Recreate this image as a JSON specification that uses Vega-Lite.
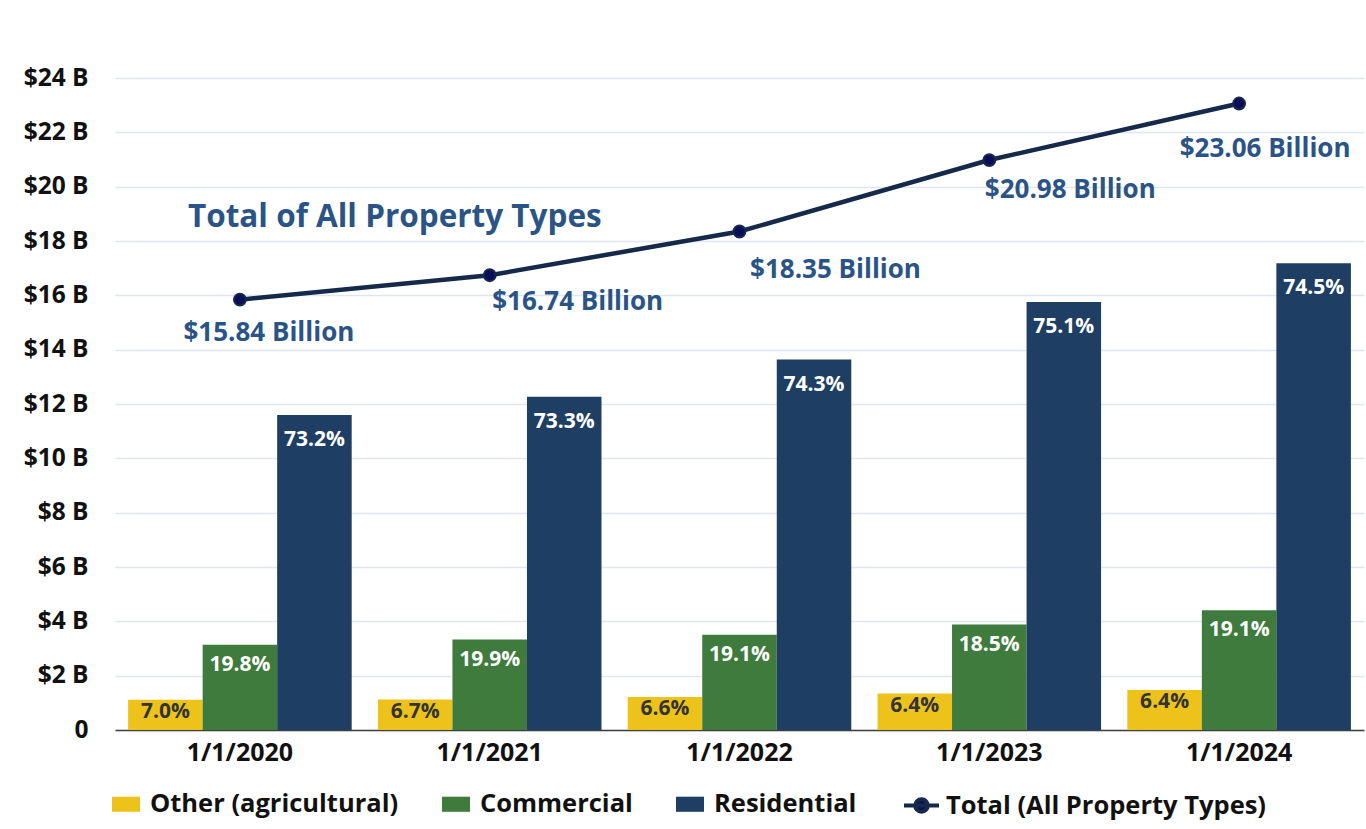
{
  "$schema": "https://vega.github.io/schema/vega-lite/v6.json",
  "width": 1249,
  "height": 652,
  "autosize": {"type": "none"},
  "padding": {"left": 115, "top": 78, "right": 2, "bottom": 99},
  "background": "white",
  "config": {"font": "Open Sans", "view": {"stroke": null}},
  "datasets": {
    "bars": [
      {"year": "1/1/2020", "type": "Other (agricultural)", "value": 1.109, "pct": "7.0%"},
      {"year": "1/1/2020", "type": "Commercial", "value": 3.136, "pct": "19.8%"},
      {"year": "1/1/2020", "type": "Residential", "value": 11.595, "pct": "73.2%"},
      {"year": "1/1/2021", "type": "Other (agricultural)", "value": 1.122, "pct": "6.7%"},
      {"year": "1/1/2021", "type": "Commercial", "value": 3.331, "pct": "19.9%"},
      {"year": "1/1/2021", "type": "Residential", "value": 12.27, "pct": "73.3%"},
      {"year": "1/1/2022", "type": "Other (agricultural)", "value": 1.211, "pct": "6.6%"},
      {"year": "1/1/2022", "type": "Commercial", "value": 3.505, "pct": "19.1%"},
      {"year": "1/1/2022", "type": "Residential", "value": 13.634, "pct": "74.3%"},
      {"year": "1/1/2023", "type": "Other (agricultural)", "value": 1.343, "pct": "6.4%"},
      {"year": "1/1/2023", "type": "Commercial", "value": 3.881, "pct": "18.5%"},
      {"year": "1/1/2023", "type": "Residential", "value": 15.756, "pct": "75.1%"},
      {"year": "1/1/2024", "type": "Other (agricultural)", "value": 1.476, "pct": "6.4%"},
      {"year": "1/1/2024", "type": "Commercial", "value": 4.404, "pct": "19.1%"},
      {"year": "1/1/2024", "type": "Residential", "value": 17.18, "pct": "74.5%"}
    ],
    "totals": [
      {"year": "1/1/2020", "total": 15.84, "label": "$15.84 Billion", "series": "Total (All Property Types)"},
      {"year": "1/1/2021", "total": 16.74, "label": "$16.74 Billion", "series": "Total (All Property Types)"},
      {"year": "1/1/2022", "total": 18.35, "label": "$18.35 Billion", "series": "Total (All Property Types)"},
      {"year": "1/1/2023", "total": 20.98, "label": "$20.98 Billion", "series": "Total (All Property Types)"},
      {"year": "1/1/2024", "total": 23.06, "label": "$23.06 Billion", "series": "Total (All Property Types)"}
    ]
  },
  "encoding": {
    "x": {
      "field": "year",
      "type": "nominal",
      "scale": {"paddingInner": 0.105, "paddingOuter": 0.0525},
      "axis": {
        "title": null,
        "labelAngle": 0,
        "domain": true,
        "domainColor": "#404040",
        "domainWidth": 1.5,
        "ticks": false,
        "grid": false,
        "labelFontSize": 25,
        "labelFontWeight": "bold",
        "labelColor": "#111111",
        "labelPadding": 10
      }
    }
  },
  "layer": [
    {
      "data": {"name": "bars"},
      "mark": {"type": "bar"},
      "encoding": {
        "xOffset": {"field": "type", "type": "nominal", "sort": ["Other (agricultural)", "Commercial", "Residential"], "scale": {"paddingInner": 0, "paddingOuter": 0}},
        "y": {
          "field": "value",
          "type": "quantitative",
          "scale": {"domain": [0, 24], "nice": false},
          "axis": {
            "title": null,
            "values": [0, 2, 4, 6, 8, 10, 12, 14, 16, 18, 20, 22, 24],
            "labelExpr": "datum.value == 0 ? '0' : '$' + datum.value + ' B'",
            "domain": false,
            "ticks": false,
            "grid": true,
            "gridColor": "#DDE7F3",
            "gridWidth": 1.3,
            "labelFontSize": 24.5,
            "labelFontWeight": "bold",
            "labelColor": "#111111",
            "labelPadding": 27
          }
        },
        "color": {
          "field": "type",
          "type": "nominal",
          "sort": ["Other (agricultural)", "Commercial", "Residential"],
          "scale": {"domain": ["Other (agricultural)", "Commercial", "Residential"], "range": ["#EDC31B", "#3E7B3C", "#1F3E63"]},
          "legend": {
            "title": null,
            "orient": "none",
            "legendX": -3,
            "legendY": 712,
            "direction": "horizontal",
            "padding": 0,
            "symbolType": "M-1,-0.54H1V0.54H-1Z",
            "symbolSize": 784,
            "symbolStrokeWidth": 0,
            "labelFontSize": 25.5,
            "labelFontWeight": "bold",
            "labelColor": "#111111",
            "labelOffset": 10,
            "columnPadding": 43,
            "labelLimit": 400
          }
        }
      }
    },
    {
      "data": {"name": "bars"},
      "transform": [{"filter": "datum.type == 'Other (agricultural)'"}],
      "mark": {"type": "text", "baseline": "middle", "dy": 12, "fontSize": 21, "fontWeight": "bold", "color": "#333333"},
      "encoding": {
        "xOffset": {"field": "type", "type": "nominal", "sort": ["Other (agricultural)", "Commercial", "Residential"]},
        "y": {"field": "value", "type": "quantitative"},
        "text": {"field": "pct"}
      }
    },
    {
      "data": {"name": "bars"},
      "transform": [{"filter": "datum.type == 'Commercial'"}],
      "mark": {"type": "text", "baseline": "middle", "dy": 20, "fontSize": 21, "fontWeight": "bold", "color": "white"},
      "encoding": {
        "xOffset": {"field": "type", "type": "nominal", "sort": ["Other (agricultural)", "Commercial", "Residential"]},
        "y": {"field": "value", "type": "quantitative"},
        "text": {"field": "pct"}
      }
    },
    {
      "data": {"name": "bars"},
      "transform": [{"filter": "datum.type == 'Residential'"}],
      "mark": {"type": "text", "baseline": "middle", "dy": 25, "fontSize": 21, "fontWeight": "bold", "color": "white"},
      "encoding": {
        "xOffset": {"field": "type", "type": "nominal", "sort": ["Other (agricultural)", "Commercial", "Residential"]},
        "y": {"field": "value", "type": "quantitative"},
        "text": {"field": "pct"}
      }
    },
    {
      "data": {"name": "totals"},
      "mark": {"type": "line", "strokeWidth": 4.5, "point": {"filled": true, "size": 140, "color": "#0B0D5C"}},
      "encoding": {
        "y": {"field": "total", "type": "quantitative"},
        "stroke": {
          "field": "series",
          "type": "nominal",
          "scale": {"range": ["#15294A"]},
          "legend": {
            "title": null,
            "orient": "none",
            "legendX": 787,
            "legendY": 708,
            "padding": 0,
            "symbolType": "M-1,0H1M-0.36,0A0.36,0.36 0 1,0 0.36,0A0.36,0.36 0 1,0 -0.36,0",
            "symbolSize": 1225,
            "symbolStrokeWidth": 4,
            "symbolFillColor": "#0B0D5C",
            "labelFontSize": 25.5,
            "labelFontWeight": "bold",
            "labelColor": "#111111",
            "labelOffset": 5,
            "labelLimit": 400
          }
        }
      }
    },
    {
      "data": {"name": "totals"},
      "transform": [{"filter": "datum.year == '1/1/2020'"}],
      "mark": {"type": "text", "align": "center", "baseline": "middle", "dx": 29, "dy": 33, "fontSize": 26, "fontWeight": "bold", "color": "#2B5486"},
      "encoding": {"y": {"field": "total", "type": "quantitative"}, "text": {"field": "label"}}
    },
    {
      "data": {"name": "totals"},
      "transform": [{"filter": "datum.year == '1/1/2021'"}],
      "mark": {"type": "text", "align": "center", "baseline": "middle", "dx": 88, "dy": 27, "fontSize": 26, "fontWeight": "bold", "color": "#2B5486"},
      "encoding": {"y": {"field": "total", "type": "quantitative"}, "text": {"field": "label"}}
    },
    {
      "data": {"name": "totals"},
      "transform": [{"filter": "datum.year == '1/1/2022'"}],
      "mark": {"type": "text", "align": "center", "baseline": "middle", "dx": 96, "dy": 39, "fontSize": 26, "fontWeight": "bold", "color": "#2B5486"},
      "encoding": {"y": {"field": "total", "type": "quantitative"}, "text": {"field": "label"}}
    },
    {
      "data": {"name": "totals"},
      "transform": [{"filter": "datum.year == '1/1/2023'"}],
      "mark": {"type": "text", "align": "center", "baseline": "middle", "dx": 81, "dy": 30, "fontSize": 26, "fontWeight": "bold", "color": "#2B5486"},
      "encoding": {"y": {"field": "total", "type": "quantitative"}, "text": {"field": "label"}}
    },
    {
      "data": {"name": "totals"},
      "transform": [{"filter": "datum.year == '1/1/2024'"}],
      "mark": {"type": "text", "align": "center", "baseline": "middle", "dx": 26, "dy": 45, "fontSize": 26, "fontWeight": "bold", "color": "#2B5486"},
      "encoding": {"y": {"field": "total", "type": "quantitative"}, "text": {"field": "label"}}
    },
    {
      "data": {"values": [{"t": "Total of All Property Types"}]},
      "mark": {"type": "text", "align": "left", "baseline": "middle", "dx": -52, "fontSize": 31.5, "fontWeight": "bold", "color": "#2B5486"},
      "encoding": {
        "x": {"datum": "1/1/2020", "type": "nominal"},
        "y": {"datum": 18.85, "type": "quantitative"},
        "text": {"field": "t"}
      }
    }
  ]
}
